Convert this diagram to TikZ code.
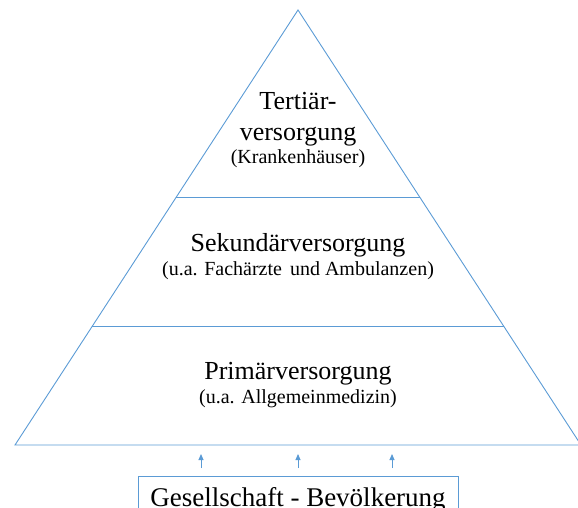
\documentclass[tikz,border=0pt]{standalone}
\usepackage{fontspec}
\setmainfont{Liberation Serif}
\usetikzlibrary{calc,arrows.meta}
\definecolor{lineblue}{HTML}{5B9BD5}
\begin{document}
\begin{tikzpicture}[x=1pt,y=-1pt,
  edge/.style={draw=lineblue,line width=0.9pt},
  tiertitle/.style={anchor=base,inner sep=0pt,font=\fontsize{26}{31}\selectfont,align=center},
  tiernote/.style={anchor=base,inner sep=0pt,font=\fontsize{20}{24}\selectfont},
  basebox/.style={draw=lineblue,line width=0.9pt,anchor=north,minimum width=320pt,
    inner xsep=0pt,inner ysep=12.5pt,text height=18pt,text depth=6pt,
    font=\fontsize{27}{32}\selectfont},
  uparrow/.style={draw=lineblue,line width=0.9pt,-{Triangle[width=5pt,length=6pt]}}]
\useasboundingbox (0,0) rectangle (578,508);

% pyramid outline
\coordinate (apex) at (298,10);
\coordinate (left) at (15,445);
\coordinate (right) at (581,445);
\draw[edge,line join=miter] (left) -- (apex) -- (right) -- cycle;

% tier separators
\coordinate (s1l) at ($(apex)!0.4299!(left)$);
\coordinate (s1r) at ($(apex)!0.4299!(right)$);
\coordinate (s2l) at ($(apex)!0.7264!(left)$);
\coordinate (s2r) at ($(apex)!0.7264!(right)$);
\draw[edge] (s1l) -- (s1r);
\draw[edge] (s2l) -- (s2r);

% tier labels
\node[tiertitle] (tert1) at (298,110) {Terti\"ar-};
\node[tiertitle] (tert2) at (298,141) {versorgung};
\node[tiernote] (tert3) at (298,164) {(Krankenh\"auser)};

\node[tiertitle] (sek1) at (298,251) {Sekund\"arversorgung};
\node[tiernote] (sek2) at (298,275) {(u.a. Fach\"arzte\kern3pt{} und Ambulanzen)};

\node[tiertitle] (prim1) at (298,379) {Prim\"arversorgung};
\node[tiernote] (prim2) at (298,403) {(u.a. Allgemeinmedizin)};

% population box and arrows
\node[basebox] (society) at (298,475.5) {Gesellschaft - Bev\"olkerung};
\foreach \i/\x in {a/201,b/298,c/392}{
  \coordinate (from\i) at (\x,468);
  \coordinate (to\i) at (\x,454);
  \draw[uparrow] (from\i) -- (to\i);
}
\end{tikzpicture}
\end{document}
